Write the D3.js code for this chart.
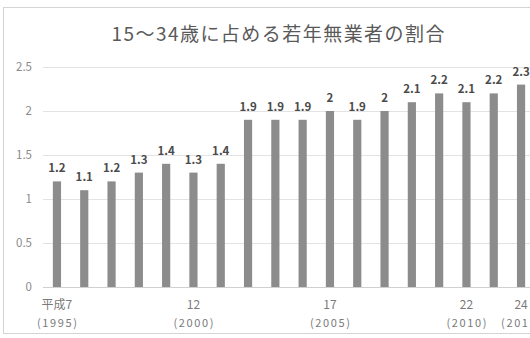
<!DOCTYPE html>
<html><head><meta charset="utf-8">
<script src="https://cdn.jsdelivr.net/npm/d3@7"></script>
<style>html,body{margin:0;padding:0;background:#fff;overflow:hidden}</style>
</head><body>
<script>
const title = "15〜34歳に占める若年無業者の割合";
const years = [1995,1996,1997,1998,1999,2000,2001,2002,2003,2004,2005,2006,2007,2008,2009,2010,2011,2012];
const values = [1.2,1.1,1.2,1.3,1.4,1.3,1.4,1.9,1.9,1.9,2,1.9,2,2.1,2.2,2.1,2.2,2.3];
const tickYears = [1995,2000,2005,2010,2012];
const tickLine1 = ["平成7","12","17","22","24"];
const tickLine2 = ["(1995)","(2000)","(2005)","(2010)","(2012)"];
const yTicks = [0,0.5,1,1.5,2,2.5];

const W = 530, H = 338;
const svg = d3.select("body").append("svg").attr("width", W).attr("height", H);
const font = "'Noto Sans CJK JP','Noto Sans',sans-serif";

svg.append("rect").attr("x",3.5).attr("y",7.5).attr("width",560).attr("height",326)
  .attr("fill","#fff").attr("stroke","#d4d4d4");

svg.append("text").attr("x",278).attr("y",41).attr("text-anchor","middle")
  .attr("font-family",font).attr("font-size",19).attr("fill","#595959")
  .attr("textLength",333).attr("lengthAdjust","spacing").text(title);

const x = d3.scaleBand().domain(years).range([43.3, 534.7]).paddingInner(0.7).paddingOuter(0.35);
const y = d3.scaleLinear().domain([0,2.5]).range([287,67]);

// gridlines
svg.append("g").selectAll("line").data(yTicks).join("line")
  .attr("x1",43).attr("x2",W).attr("y1",d=>Math.round(y(d))+0.5).attr("y2",d=>Math.round(y(d))+0.5)
  .attr("stroke",d=>d===0?"#d0d0d0":"#e3e3e3").attr("stroke-width",1);

// y axis labels
const yAxis = d3.axisLeft(y).tickValues(yTicks).tickSize(0).tickPadding(0).tickFormat(d=>String(d));
const ya = svg.append("g").attr("transform","translate(32,0)").call(yAxis);
ya.select(".domain").remove();
ya.selectAll("text").attr("font-family",font).attr("font-size",11.5).attr("fill","#8a8a8a");

// bars
svg.append("g").selectAll("rect").data(values).join("rect")
  .attr("x",(d,i)=>x(years[i])).attr("width",x.bandwidth())
  .attr("y",d=>y(d)).attr("height",d=>y(0)-y(d)).attr("fill","#8c8c8c");

// data labels
svg.append("g").selectAll("text").data(values).join("text")
  .attr("x",(d,i)=>x(years[i])+x.bandwidth()/2).attr("y",d=>y(d)-9)
  .attr("text-anchor","middle").attr("font-family",font).attr("font-size",11.5)
  .attr("font-weight",600).attr("fill","#4a4a4a").text(d=>String(d));

// x tick labels
const xl = svg.append("g");
tickYears.forEach((yr,i)=>{
  const cx = x(yr)+x.bandwidth()/2;
  xl.append("text").attr("x",cx).attr("y",309).attr("text-anchor","middle")
    .attr("font-family",font).attr("font-size",12).attr("fill","#7a7a7a").text(tickLine1[i]);
  xl.append("text").attr("x",cx).attr("y",327).attr("text-anchor","middle")
    .attr("font-family",font).attr("font-size",11).attr("fill","#7a7a7a")
    .attr("textLength",40).attr("lengthAdjust","spacing").text(tickLine2[i]);
});
</script>
</body></html>
